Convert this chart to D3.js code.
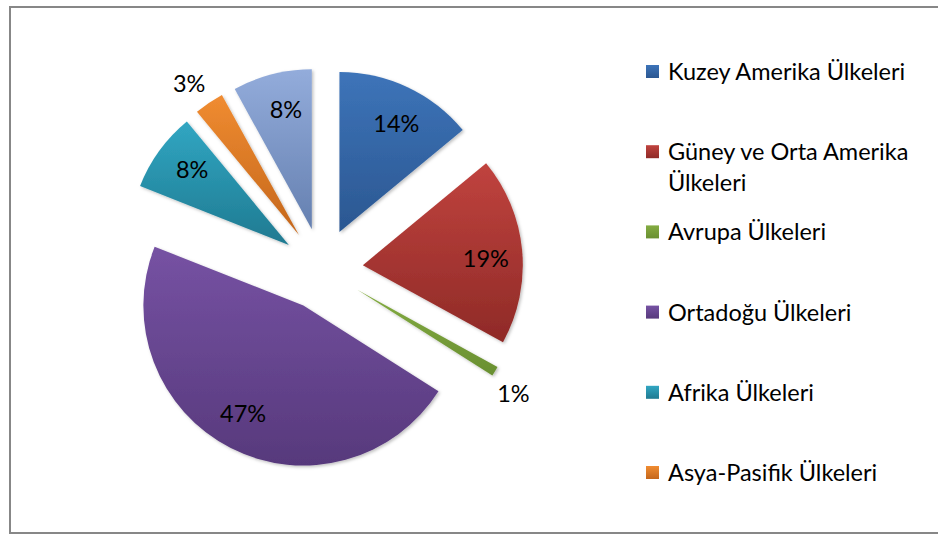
<!DOCTYPE html>
<html>
<head>
<meta charset="utf-8">
<script src="https://cdn.jsdelivr.net/npm/d3@7"></script>
<style>
  body { margin: 0; background: #fff; }
  text { font-family: Lato, "Open Sans", sans-serif; fill: #000; }
</style>
</head>
<body>
<div id="pie-chart"></div>
<script>
// Daten: Anteile der Regionen (in %), im Uhrzeigersinn ab 12 Uhr
const categories = [
    "Kuzey Amerika Ülkeleri",
    "Güney ve Orta Amerika Ülkeleri",
    "Avrupa Ülkeleri",
    "Ortadoğu Ülkeleri",
    "Afrika Ülkeleri",
    "Asya-Pasifik Ülkeleri",
    "Avrasya Ülkeleri"
];
const values = [14, 19, 1, 47, 8, 3, 8];
const labels = ["14%", "19%", "1%", "47%", "8%", "3%", "8%"];

// Farben (oben hell, unten dunkel wie im Excel-Verlauf)
const colorsTop = ["#3d74b9", "#c0433e", "#84ac42", "#7652a3", "#31a6c2", "#f08c31", "#93acdb"];
const colorsBottom = ["#2b5791", "#8f2a27", "#698f31", "#57397c", "#1f7a91", "#c4661b", "#6580b0"];

const drawPieChart = () => {
    const width = 938;
    const height = 534;
    const fontSize = 23.5;

    const svg = d3.select("#pie-chart")
        .append("svg")
        .attr("width", width)
        .attr("height", height)
        .attr("viewBox", `0, 0, ${width}, ${height}`);

    // Rahmen des Diagramms (rechts abgeschnitten)
    svg.append("rect")
        .attr("x", 10)
        .attr("y", 7)
        .attr("width", width + 10)
        .attr("height", 526)
        .attr("fill", "none")
        .attr("stroke", "#878787")
        .attr("stroke-width", 2);

    const defs = svg.append("defs");
    categories.forEach((c, i) => {
        const grad = defs.append("linearGradient")
            .attr("id", `grad-${i}`)
            .attr("x1", 0).attr("y1", 0)
            .attr("x2", 0).attr("y2", 1);
        grad.append("stop").attr("offset", "0%").attr("stop-color", colorsTop[i]);
        grad.append("stop").attr("offset", "100%").attr("stop-color", colorsBottom[i]);
    });
    defs.append("filter")
        .attr("id", "shadow")
        .attr("x", "-20%").attr("y", "-20%")
        .attr("width", "140%").attr("height", "140%")
        .append("feDropShadow")
        .attr("dx", 1.5).attr("dy", 1.5)
        .attr("stdDeviation", 1.5)
        .attr("flood-color", "#000")
        .attr("flood-opacity", 0.25);

    // Pie-Geometrie
    const cx = 322;
    const cy = 269;
    const radius = 160;
    const explode = 41;

    const pie = d3.pie()
        .sort(null)
        .value(d => d.value);
    const arcs = pie(categories.map((c, i) => ({ name: c, value: values[i], label: labels[i], i })));

    const arc = d3.arc()
        .innerRadius(0)
        .outerRadius(radius);

    const dir = a => [Math.sin(a), -Math.cos(a)];

    // Position der Beschriftung: innen bei großen, außen bei kleinen Stücken
    const labelPos = d => {
        const small = d.data.value < 5;
        const m = (d.startAngle + d.endAngle) / 2 + (small ? (d.data.value < 2 ? 0.05 : -0.03) : 0.04);
        const rr = small ? radius * 1.17 : radius * 0.77;
        return dir(m).map(v => v * rr);
    };

    const innerChart = svg.append("g")
        .attr("transform", `translate(${cx}, ${cy})`);

    const slices = innerChart.selectAll("g.slice")
        .data(arcs)
        .join("g")
        .attr("class", "slice")
        .attr("transform", d => {
            const [dx, dy] = dir((d.startAngle + d.endAngle) / 2);
            return `translate(${dx * explode}, ${dy * explode})`;
        });

    slices.append("path")
        .attr("d", arc)
        .attr("fill", d => `url(#grad-${d.data.i})`)
        .attr("filter", "url(#shadow)");

    slices.append("text")
        .attr("text-anchor", "middle")
        .attr("dominant-baseline", "central")
        .attr("font-size", fontSize)
        .attr("x", d => labelPos(d)[0])
        .attr("y", d => labelPos(d)[1])
        .text(d => d.data.label);

    // Legende
    const legendX = 646;
    const legendY = 71;
    const legendStep = 80.2;
    const lineHeight = 31;
    const maxTextWidth = 262;

    const legend = svg.append("g");
    categories.forEach((c, i) => {
        const y = legendY + i * legendStep;
        if (y + 12 > height) return; // Excel schneidet die Legende ab
        const item = legend.append("g");
        item.append("rect")
            .attr("x", legendX)
            .attr("y", y - 6)
            .attr("width", 13)
            .attr("height", 13)
            .attr("fill", `url(#grad-${i})`);
        const text = item.append("text")
            .attr("x", legendX + 22)
            .attr("y", y)
            .attr("dominant-baseline", "central")
            .attr("font-size", fontSize);
        // einfacher Zeilenumbruch
        const words = c.split(" ");
        let line = [];
        let tspan = text.append("tspan").attr("x", legendX + 22).attr("dy", 0);
        words.forEach(w => {
            line.push(w);
            tspan.text(line.join(" "));
            if (tspan.node().getComputedTextLength() > maxTextWidth && line.length > 1) {
                line.pop();
                tspan.text(line.join(" "));
                line = [w];
                tspan = text.append("tspan")
                    .attr("x", legendX + 22)
                    .attr("dy", lineHeight)
                    .text(w);
            }
        });
    });
};

drawPieChart();
</script>
</body>
</html>
